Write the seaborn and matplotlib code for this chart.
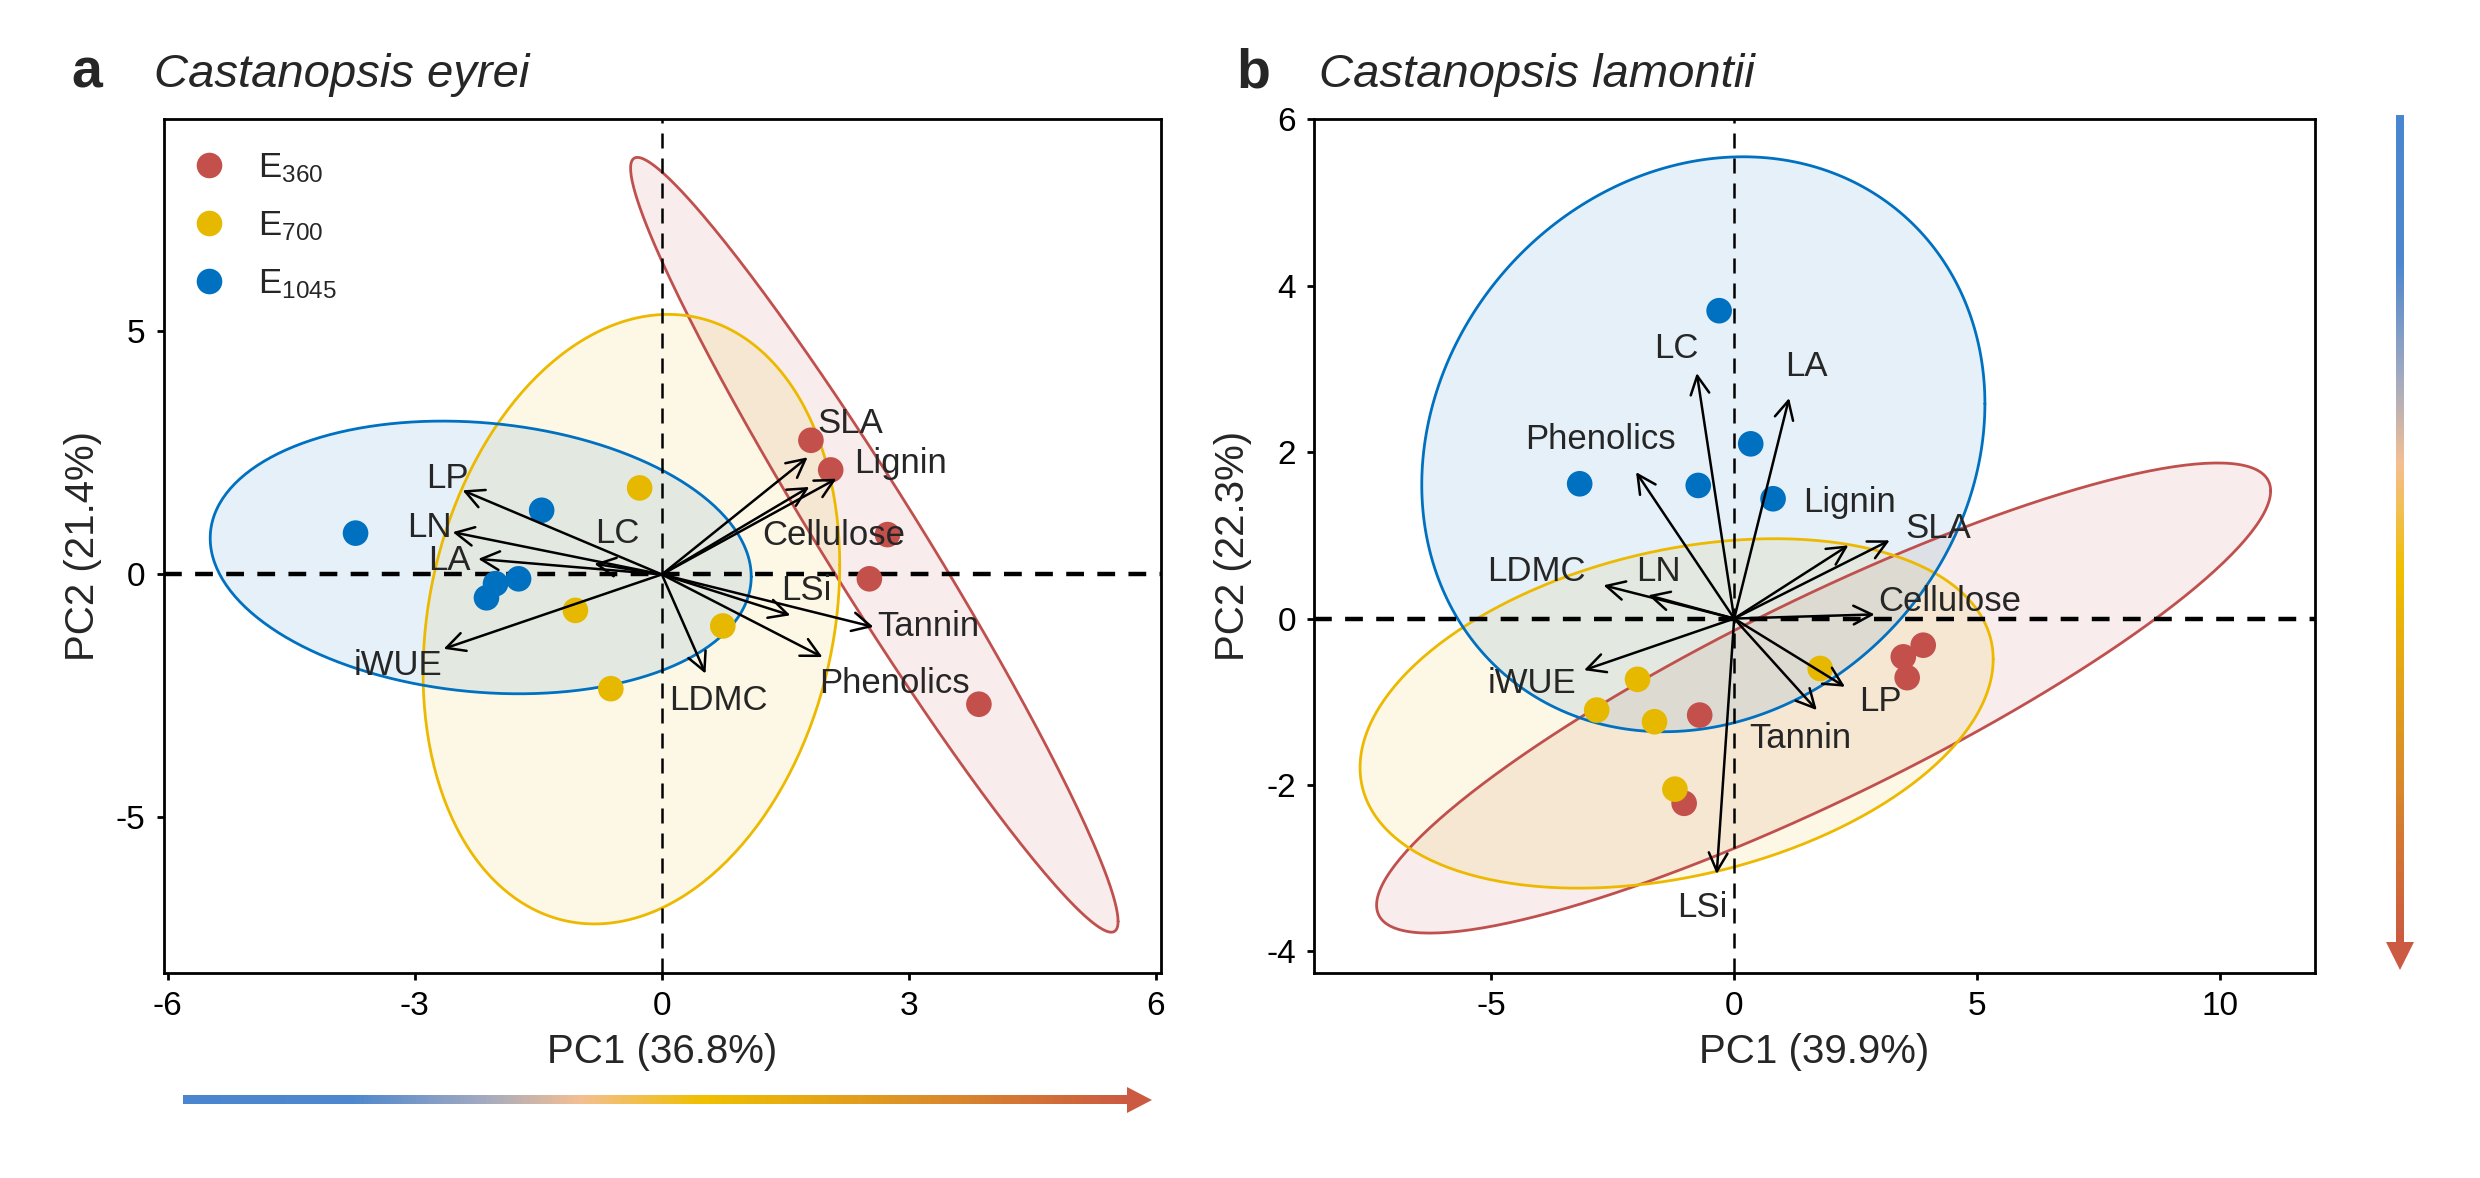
import numpy as np
import pandas as pd
import seaborn as sns
import matplotlib.pyplot as plt
from matplotlib.colors import LinearSegmentedColormap
from matplotlib.patches import Polygon

# ---- data ----
groups = ['E360', 'E700', 'E1045']
group_labels = [r'E$_\mathregular{360}$', r'E$_\mathregular{700}$', r'E$_\mathregular{1045}$']
point_colors = ['#C4504C', '#E6B800', '#0070C0']
edge_colors = ['#C0504D', '#EDB900', '#0070C0']

# panel a: Castanopsis eyrei
a_group = ['E360'] * 5 + ['E700'] * 4 + ['E1045'] * 5
a_pc1 = [1.81, 2.05, 2.74, 2.52, 3.85, -0.27, -1.05, -0.62, 0.74, -3.72, -1.46, -1.74, -2.02, -2.13]
a_pc2 = [2.76, 2.15, 0.82, -0.09, -2.67, 1.78, -0.74, -2.35, -1.06, 0.85, 1.32, -0.09, -0.19, -0.48]

a_traits = ['LP', 'LN', 'LA', 'LC', 'iWUE', 'LDMC', 'LSi', 'Tannin', 'Phenolics', 'Cellulose', 'Lignin', 'SLA']
a_load1 = [-2.42, -2.54, -2.23, -0.82, -2.65, 0.53, 1.56, 2.57, 1.95, 1.79, 2.12, 1.77]
a_load2 = [1.73, 0.87, 0.32, 0.22, -1.53, -2.04, -0.84, -1.08, -1.70, 1.80, 1.97, 2.41]
a_lab1 = [-2.60, -2.82, -2.58, -0.54, -3.20, 0.69, 1.75, 3.24, 2.82, 2.09, 2.90, 2.29]
a_lab2 = [1.97, 0.97, 0.29, 0.84, -1.87, -2.59, -0.33, -1.08, -2.25, 0.80, 2.28, 3.10]

# ellipse per group: centre, half extent on PC1 / PC2, correlation
a_ell_cx = [2.58, -0.37, -2.20]
a_ell_cy = [0.61, -0.92, 0.35]
a_ell_sx = [2.96, 2.53, 3.285]
a_ell_sy = [7.97, 6.27, 2.805]
a_ell_r = [-0.972, 0.177, -0.141]

# panel b: Castanopsis lamontii
b_group = ['E360'] * 5 + ['E700'] * 5 + ['E1045'] * 5
b_pc1 = [-0.71, -1.03, 3.89, 3.48, 3.56, -1.99, -2.83, -1.64, -1.22, 1.77, -0.31, 0.34, -3.18, -0.74, 0.80]
b_pc2 = [-1.16, -2.22, -0.32, -0.46, -0.71, -0.73, -1.10, -1.24, -2.05, -0.60, 3.70, 2.10, 1.62, 1.60, 1.44]

b_traits = ['LC', 'LA', 'Phenolics', 'LDMC', 'LN', 'iWUE', 'LSi', 'Tannin', 'LP', 'Cellulose', 'Lignin', 'SLA']
b_load1 = [-0.77, 1.13, -2.02, -2.69, -1.77, -3.09, -0.36, 1.70, 2.28, 2.89, 2.35, 3.20]
b_load2 = [2.95, 2.65, 1.76, 0.40, 0.28, -0.62, -3.07, -1.10, -0.82, 0.05, 0.88, 0.94]
b_lab1 = [-1.19, 1.49, -2.76, -4.07, -1.56, -4.17, -0.65, 1.37, 3.00, 4.44, 2.38, 4.20]
b_lab2 = [3.25, 3.03, 2.15, 0.56, 0.56, -0.78, -3.47, -1.44, -1.00, 0.20, 1.40, 1.08]

b_ell_cx = [1.84, -1.185, -0.635]
b_ell_cy = [-0.955, -1.14, 2.095]
b_ell_sx = [9.2, 6.515, 5.795]
b_ell_sy = [2.825, 2.10, 3.455]
b_ell_r = [0.881, 0.31, 0.141]

# ---- style ----
sns.set_theme(style='ticks')
plt.rcParams['font.family'] = ['Liberation Sans', 'DejaVu Sans']
plt.rcParams['mathtext.fontset'] = 'custom'
plt.rcParams['mathtext.rm'] = 'Liberation Sans'
plt.rcParams['mathtext.it'] = 'Liberation Sans:italic'
plt.rcParams['axes.linewidth'] = 1.0
plt.rcParams['axes.unicode_minus'] = False

fig = plt.figure(figsize=(12.4, 5.89), dpi=200)
ax_a = fig.add_axes([0.0660, 0.1740, 0.4021, 0.7254])
ax_b = fig.add_axes([0.5298, 0.1740, 0.4036, 0.7254])


def draw_panel(ax, grp, pc1, pc2, traits, l1, l2, t1, t2, cx, cy, sx, sy, rr):
    t = np.linspace(0, 2 * np.pi, 300)
    for i, g in enumerate(groups):
        ex = cx[i] + sx[i] * np.cos(t)
        ey = cy[i] + sy[i] * (rr[i] * np.cos(t) + np.sqrt(1 - rr[i] ** 2) * np.sin(t))
        ax.fill(ex, ey, color=edge_colors[i], alpha=0.1, lw=0, zorder=1)
        ax.plot(ex, ey, color=edge_colors[i], lw=1.0, zorder=1.5)

    ax.axhline(0, color='black', ls=(0, (4, 3)), lw=1.6, zorder=2)
    ax.axvline(0, color='black', ls=(0, (6, 4)), lw=0.9, zorder=2)

    df = pd.DataFrame({'PC1': pc1, 'PC2': pc2, 'Group': grp})
    sns.scatterplot(data=df, x='PC1', y='PC2', hue='Group', hue_order=groups,
                    palette=point_colors, s=85, edgecolor='none', linewidth=0,
                    ax=ax, zorder=3, legend=True)

    for name, x, y, tx, ty in zip(traits, l1, l2, t1, t2):
        ax.annotate('', xy=(x, y), xytext=(0, 0),
                    arrowprops=dict(arrowstyle='->,head_length=0.55,head_width=0.28',
                                    color='black', lw=0.9, shrinkA=0, shrinkB=0,
                                    mutation_scale=12),
                    zorder=4)
        ax.text(tx, ty, name, ha='center', va='center', fontsize=12.5, zorder=5)

    ax.tick_params(direction='out', length=2.5, width=1.0, labelsize=12, pad=4,
                   color='black', labelcolor='black')
    for sp in ax.spines.values():
        sp.set_color('black')
        sp.set_linewidth(1.0)


draw_panel(ax_a, a_group, a_pc1, a_pc2, a_traits, a_load1, a_load2, a_lab1, a_lab2,
           a_ell_cx, a_ell_cy, a_ell_sx, a_ell_sy, a_ell_r)
draw_panel(ax_b, b_group, b_pc1, b_pc2, b_traits, b_load1, b_load2, b_lab1, b_lab2,
           b_ell_cx, b_ell_cy, b_ell_sx, b_ell_sy, b_ell_r)

ax_a.set_xlim(-6.05, 6.06)
ax_a.set_ylim(-8.2, 9.38)
ax_a.set_xticks([-6, -3, 0, 3, 6])
ax_a.set_yticks([-5, 0, 5])
ax_a.set_xlabel('PC1 (36.8%)', fontsize=14.5, labelpad=4)
ax_a.set_ylabel('PC2 (21.4%)', fontsize=14.5, labelpad=5)

ax_b.set_xlim(-8.65, 11.95)
ax_b.set_ylim(-4.26, 6.01)
ax_b.set_xticks([-5, 0, 5, 10])
ax_b.set_yticks([-4, -2, 0, 2, 4, 6])
ax_b.set_xlabel('PC1 (39.9%)', fontsize=14.5, labelpad=4)
ax_b.set_ylabel('PC2 (22.3%)', fontsize=14.5, labelpad=5)

handles, _ = ax_a.get_legend_handles_labels()
ax_a.legend(handles[:3], group_labels, loc='upper left', bbox_to_anchor=(0.028, 0.962),
            frameon=False, fontsize=12.5, handlelength=1.0, handletextpad=0.9,
            labelspacing=0.7, borderpad=0, borderaxespad=0, markerscale=1.0)
ax_b.get_legend().remove()

# panel titles
fig.text(0.0286, 0.926, 'a', fontsize=20, fontweight='bold', va='baseline')
fig.text(0.0621, 0.926, 'Castanopsis eyrei', fontsize=17, style='italic', va='baseline')
fig.text(0.4984, 0.926, 'b', fontsize=20, fontweight='bold', va='baseline')
fig.text(0.5319, 0.926, 'Castanopsis lamontii', fontsize=17, style='italic', va='baseline')

# gradient arrows (blue -> yellow -> red)
cmap = LinearSegmentedColormap.from_list('grad', [
    (0.0, '#4A86D0'), (0.18, '#4F88CE'), (0.32, '#A5ABC0'), (0.42, '#F4BF92'),
    (0.55, '#F0C000'), (0.78, '#DC9028'), (1.0, '#CC5A42')])
ov = fig.add_axes([0, 0, 1, 1], zorder=-1)
ov.axis('off')
grad = np.linspace(0, 1, 256)
ov.imshow(grad[None, :], cmap=cmap, extent=[183, 1128, 1104.5, 1095.5], aspect='auto')
ov.add_patch(Polygon([(1127, 1087), (1152, 1100), (1127, 1113)], closed=True,
                     color='#CC5A42', lw=0))
ov.imshow(grad[:, None], cmap=cmap, extent=[2396, 2404, 943, 115], aspect='auto')
ov.add_patch(Polygon([(2386, 942), (2414, 942), (2400, 970)], closed=True,
                     color='#CC5A42', lw=0))
ov.set_xlim(0, 2480)
ov.set_ylim(1178, 0)

fig.savefig('out.png', dpi=200)
